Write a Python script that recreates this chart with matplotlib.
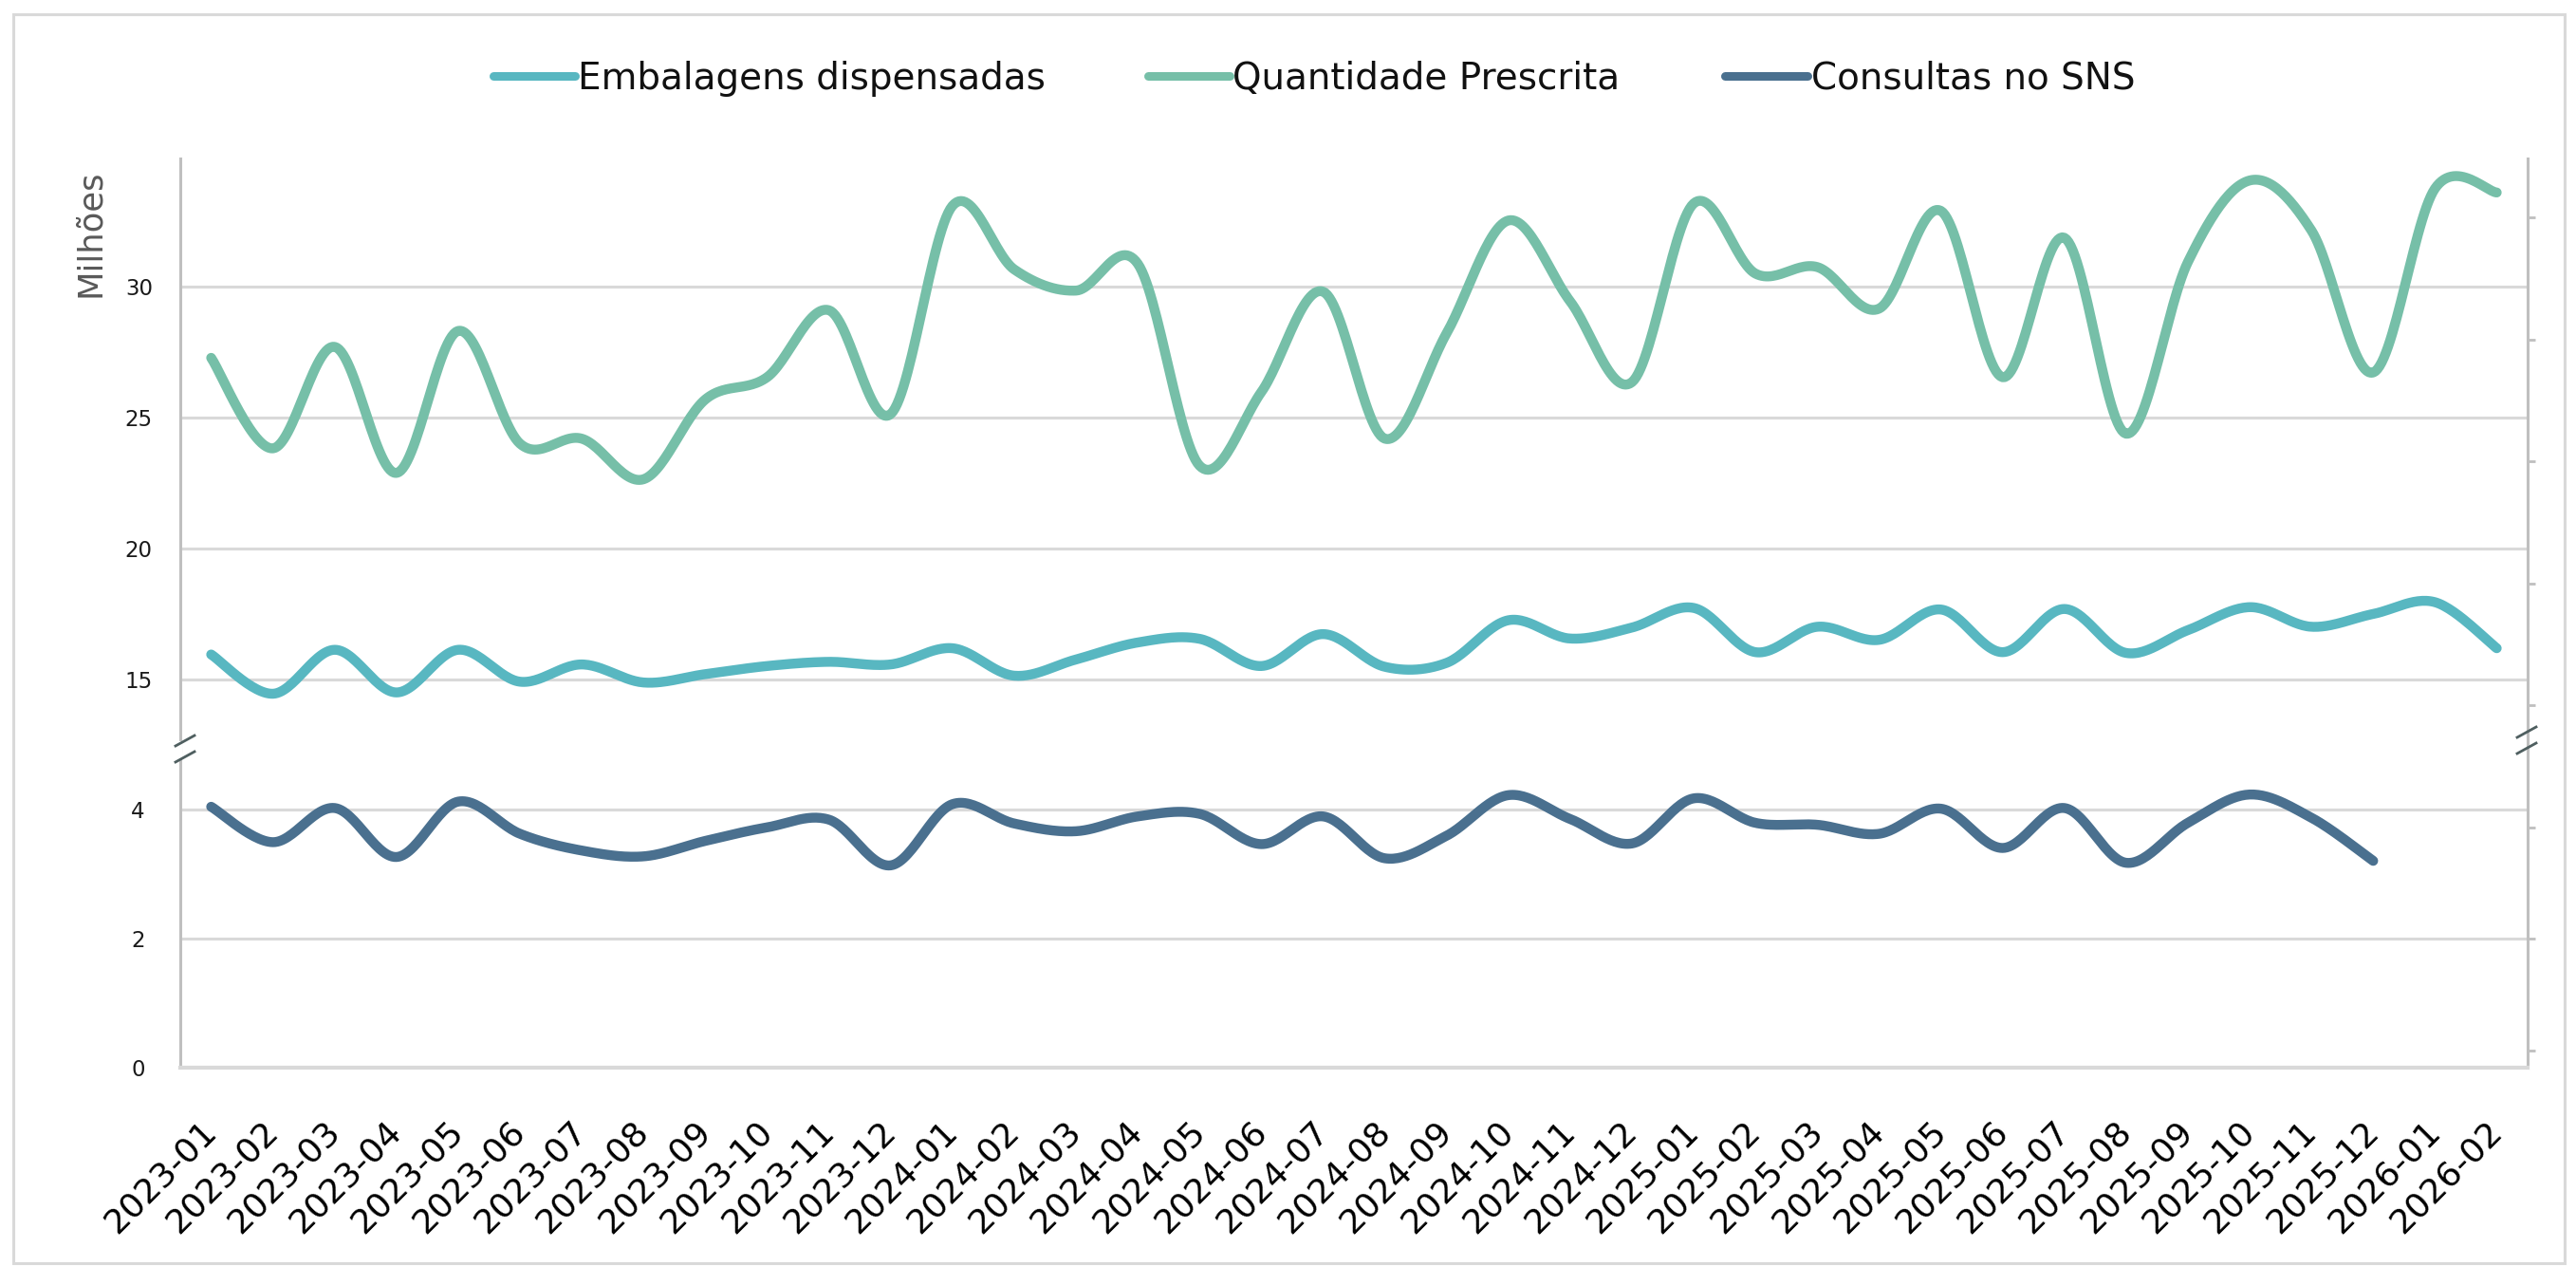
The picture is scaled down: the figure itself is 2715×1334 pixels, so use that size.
import numpy as np
import matplotlib
matplotlib.use("Agg")
import matplotlib.pyplot as plt
from matplotlib.lines import Line2D
from matplotlib.patches import Rectangle

# ---------------- data ----------------
months = ["2023-01", "2023-02", "2023-03", "2023-04", "2023-05", "2023-06", "2023-07",
          "2023-08", "2023-09", "2023-10", "2023-11", "2023-12", "2024-01", "2024-02",
          "2024-03", "2024-04", "2024-05", "2024-06", "2024-07", "2024-08", "2024-09",
          "2024-10", "2024-11", "2024-12", "2025-01", "2025-02", "2025-03", "2025-04",
          "2025-05", "2025-06", "2025-07", "2025-08", "2025-09", "2025-10", "2025-11",
          "2025-12", "2026-01", "2026-02"]

embalagens = [15.94, 14.44, 16.12, 14.49, 16.12, 14.90, 15.56, 14.87, 15.19, 15.50,
              15.66, 15.56, 16.18, 15.13, 15.75, 16.40, 16.54, 15.50, 16.72, 15.47,
              15.62, 17.25, 16.55, 16.97, 17.72, 16.03, 17.00, 16.50, 17.66, 16.03,
              17.68, 16.00, 16.87, 17.75, 17.00, 17.49, 17.94, 16.18]

quantidade = [27.28, 23.82, 27.70, 22.88, 28.31, 24.00, 24.19, 22.64, 25.69, 26.54,
              29.10, 25.13, 33.09, 30.66, 29.85, 30.88, 23.16, 25.97, 29.81, 24.19,
              28.22, 32.53, 29.44, 26.35, 33.18, 30.50, 30.75, 29.16, 32.90, 26.54,
              31.87, 24.38, 30.94, 34.06, 32.15, 26.72, 33.75, 33.60]

consultas = [4.05, 3.50, 4.03, 3.27, 4.13, 3.63, 3.37, 3.28, 3.52, 3.73,
             3.85, 3.14, 4.09, 3.79, 3.67, 3.90, 3.94, 3.47, 3.90, 3.25,
             3.60, 4.23, 3.86, 3.48, 4.18, 3.80, 3.77, 3.63, 4.02, 3.41,
             4.03, 3.18, 3.80, 4.24, 3.88, 3.21, np.nan, np.nan]

series_names = ["Embalagens dispensadas", "Quantidade Prescrita", "Consultas no SNS"]
colors = ["#58B7C1", "#76BFA8", "#4A708F"]

upper_ticks = [15, 20, 25, 30]
lower_ticks = [0, 2, 4]

# ---------------- helpers ----------------
W_PX, H_PX, DPI = 2715, 1334, 100


def fx(x):
    return x / W_PX


def fy(y):
    return 1 - y / H_PX


def smooth(xs, ys, n=30):
    """Excel-like smoothed line (Catmull-Rom / Bezier) through the points."""
    xs = np.asarray(xs, float)
    ys = np.asarray(ys, float)
    ok = ~np.isnan(ys)
    xs, ys = xs[ok], ys[ok]
    P = np.column_stack([xs, ys])
    Pp = np.vstack([P[0], P, P[-1]])
    out = []
    t = np.linspace(0, 1, n)[:, None]
    for i in range(len(P) - 1):
        p0, p1, p2, p3 = Pp[i], Pp[i + 1], Pp[i + 2], Pp[i + 3]
        b1 = p1 + (p2 - p0) / 6.0
        b2 = p2 - (p3 - p1) / 6.0
        seg = ((1 - t) ** 3) * p1 + 3 * ((1 - t) ** 2) * t * b1 + 3 * (1 - t) * t ** 2 * b2 + t ** 3 * p2
        out.append(seg if i == 0 else seg[1:])
    c = np.vstack(out)
    return c[:, 0], c[:, 1]


# ---------------- figure ----------------
fig = plt.figure(figsize=(W_PX / DPI, H_PX / DPI), dpi=DPI)
fig.patch.set_facecolor("white")

x_left, x_right = 190, 2664
y_top, y_break, y_bottom = 167, 790, 1125

ax_top = fig.add_axes([fx(x_left), fy(y_break), fx(x_right - x_left), (y_break - y_top) / H_PX])
ax_bot = fig.add_axes([fx(x_left), fy(y_bottom), fx(x_right - x_left), (y_bottom - y_break) / H_PX])

x = np.arange(len(months))
LW = 7.5
for ax in (ax_top, ax_bot):
    ax.set_xlim(-0.5, len(months) - 0.5)
    ax.set_axisbelow(True)
    ax.yaxis.grid(True, color="#d9d9d9", lw=2.2)
    ax.xaxis.grid(False)
    for s in ("left", "right"):
        ax.spines[s].set_color("#bfbfbf")
        ax.spines[s].set_linewidth(2.2)
    ax.spines["top"].set_visible(False)
    ax.set_facecolor("none")

ax_top.spines["bottom"].set_visible(False)
ax_bot.spines["bottom"].set_color("#d9d9d9")
ax_bot.spines["bottom"].set_linewidth(3)

ax_top.set_ylim(12.30, 34.90)
ax_bot.set_ylim(0, 4.935)

# lines
for data, col, ax in ((quantidade, colors[1], ax_top), (embalagens, colors[0], ax_top),
                      (consultas, colors[2], ax_bot)):
    sx, sy = smooth(x, data)
    ax.plot(sx, sy, color=col, lw=LW, solid_capstyle="round", solid_joinstyle="round", zorder=3)

# y ticks
ax_top.set_yticks(upper_ticks)
ax_top.set_yticklabels([str(v) for v in upper_ticks])
ax_top.tick_params(axis="y", length=0, pad=21, labelsize=16.5, labelcolor="#1a1a1a")
ax_top.tick_params(axis="x", length=0, labelbottom=False)

ax_bot.set_yticks(lower_ticks)
ax_bot.set_yticklabels([str(v) for v in lower_ticks])
ax_bot.tick_params(axis="y", length=0, pad=27, labelsize=16.5, labelcolor="#1a1a1a")

ax_bot.set_xticks(x)
ax_bot.set_xticklabels(months, rotation=45, ha="right", va="center",
                       rotation_mode="anchor", fontsize=26)
ax_bot.tick_params(axis="x", length=0, pad=44.5)

# secondary (unlabelled) right axis ticks
for ax, ticks in ((ax_top, np.arange(14.0, 34.9, 4.66)), (ax_bot, np.array([0.27, 2.0, 3.73]))):
    tw = ax.twinx()
    tw.set_ylim(ax.get_ylim())
    tw.set_yticks(ticks)
    tw.tick_params(axis="y", length=6, width=2, color="#bfbfbf", labelright=False, direction="out")
    for s in tw.spines.values():
        s.set_visible(False)

# axis break marks
def break_mark(xc, yc):
    # white gap on the spine
    fig.add_artist(Line2D([fx(xc), fx(xc)], [fy(yc - 7), fy(yc + 7)], color="white", lw=3,
                          transform=fig.transFigure, zorder=10))
    for dy in (-9, 8):
        fig.add_artist(Line2D([fx(xc - 5), fx(xc + 15)], [fy(yc + dy + 5), fy(yc + dy - 6)],
                              color="#4f5f60", lw=2, transform=fig.transFigure, zorder=11))


break_mark(x_left, y_break)
break_mark(x_right - 6, 781)

# y label
fig.text(fx(95), fy(246), "Milhões", rotation=90, ha="center", va="center",
         fontsize=25.5, color="#595959")

# legend (manual, top centre)
leg_y = 80
leg = [(520, 606, 609), (1210, 1296, 1299), (1818, 1905, 1909)]
for (h0, h1, tx), name, col in zip(leg, series_names, colors):
    fig.add_artist(Line2D([fx(h0), fx(h1)], [fy(leg_y), fy(leg_y)], color=col, lw=6.5,
                          solid_capstyle="round", transform=fig.transFigure))
    fig.text(fx(tx), fy(leg_y + 14), name, ha="left", va="baseline", fontsize=28, color="#111111")

# chart border
fig.add_artist(Rectangle((fx(14), fy(1331)), fx(2703 - 14), (1331 - 15) / H_PX,
                         transform=fig.transFigure, fill=False, ec="#d9d9d9", lw=2.2))

fig.savefig("out.png", dpi=DPI, facecolor="white")
